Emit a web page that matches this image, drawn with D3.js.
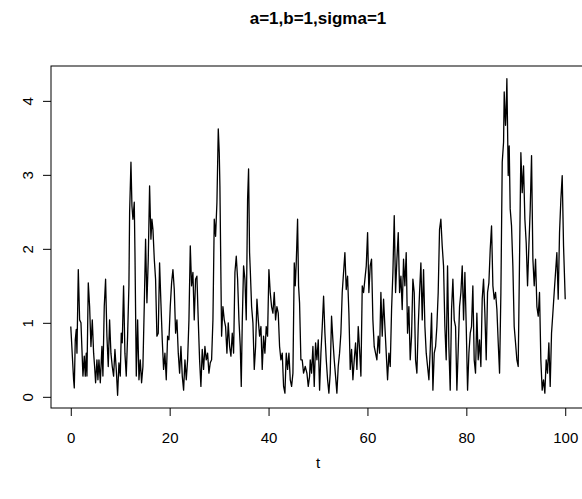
<!DOCTYPE html>
<html>
<head>
<meta charset="utf-8">
<script src="https://cdn.jsdelivr.net/npm/d3@7/dist/d3.min.js"></script>
<style>
  body { margin: 0; background: #fff; }
  svg { display: block; font-family: "Liberation Sans", Arial, Helvetica, sans-serif; }
</style>
</head>
<body>
<div id="chart"></div>
<script>
// Title and axis labels
const title = "a=1,b=1,sigma=1";
const xLabel = "t";
const xTicks = [0, 20, 40, 60, 80, 100];
const yTicks = [0, 1, 2, 3, 4];

const times = [
  0, 0.57, 0.71, 0.91, 1.11, 1.25, 1.52, 1.79, 2.06, 2.26,
  2.46, 2.73, 2.93, 3.13, 3.27, 3.54, 3.81, 4.08, 4.35, 4.62,
  4.82, 5.02, 5.29, 5.49, 5.70, 5.97, 6.30, 6.50, 6.77, 7.04,
  7.31, 7.58, 7.85, 8.12, 8.39, 8.66, 8.93, 9.20, 9.47, 9.74,
  10.01, 10.21, 10.41, 10.68, 10.95, 11.22, 11.49, 11.76, 11.90, 12.17,
  12.37, 12.57, 12.84, 12.98, 13.25, 13.52, 13.79, 14.05, 14.32, 14.59,
  14.86, 15.13, 15.40, 15.67, 15.94, 16.21, 16.41, 16.62, 16.89, 17.15,
  17.42, 17.69, 17.96, 18.23, 18.50, 18.77, 19.04, 19.31, 19.58, 19.85,
  20.12, 20.39, 20.66, 20.93, 21.20, 21.47, 21.74, 22.01, 22.28, 22.55,
  22.82, 23.09, 23.36, 23.63, 23.90, 24.17, 24.43, 24.70, 24.97, 25.24,
  25.51, 25.78, 26.05, 26.32, 26.59, 26.86, 27.13, 27.40, 27.67, 27.94,
  28.21, 28.48, 28.75, 29.02, 29.29, 29.56, 29.83, 30.03, 30.16, 30.37,
  30.50, 30.77, 31.04, 31.31, 31.58, 31.85, 32.12, 32.39, 32.66, 32.93,
  33.20, 33.47, 33.74, 34.01, 34.28, 34.48, 34.68, 34.95, 35.22, 35.49,
  35.76, 35.96, 36.16, 36.30, 36.57, 36.84, 37.11, 37.38, 37.65, 37.92,
  38.19, 38.46, 38.72, 38.99, 39.26, 39.53, 39.80, 40.07, 40.34, 40.61,
  40.88, 41.15, 41.42, 41.69, 41.96, 42.23, 42.50, 42.77, 43.04, 43.31,
  43.58, 43.85, 44.12, 44.39, 44.66, 44.93, 45.20, 45.40, 45.60, 45.87,
  46.07, 46.27, 46.54, 46.81, 47.08, 47.42, 47.76, 48.03, 48.30,
  48.43, 48.70, 48.97, 49.24, 49.51, 49.78, 50.05, 50.32, 50.59, 50.86,
  51.13, 51.40, 51.67, 51.94, 52.20, 52.47, 52.74, 53.01, 53.28, 53.55,
  53.82, 54.09, 54.36, 54.63, 54.90, 55.17, 55.44, 55.71, 55.98, 56.25,
  56.52, 56.79, 57.06, 57.33, 57.60, 57.87, 58.14, 58.41, 58.68, 58.95,
  59.22, 59.49, 59.76, 60.03, 60.29, 60.56, 60.83, 61.10, 61.37, 61.64,
  61.91, 62.18, 62.45, 62.72, 62.99, 63.26, 63.53, 63.80, 64.07, 64.34,
  64.61, 64.88, 65.15, 65.42, 65.69, 65.96, 66.23, 66.50, 66.77, 67.03,
  67.30, 67.57, 67.84, 68.11, 68.38, 68.65, 68.92, 69.19, 69.46, 69.73,
  70.00, 70.27, 70.54, 70.81, 71.08, 71.35, 71.62, 71.89, 72.16, 72.43,
  72.70, 72.97, 73.24, 73.51, 73.78, 74.04, 74.31, 74.58, 74.85, 75.12,
  75.39, 75.66, 75.93, 76.20, 76.47, 76.74, 77.01, 77.28, 77.55, 77.82,
  78.09, 78.36, 78.63, 78.90, 79.17, 79.44, 79.71, 79.98, 80.25, 80.52,
  80.79, 81.05, 81.32, 81.59, 81.86, 82.13, 82.40, 82.67, 82.94, 83.21,
  83.48, 83.75, 84.02, 84.29, 84.56, 84.83, 85.10, 85.37, 85.64, 85.91,
  86.18, 86.45, 86.72, 86.99, 87.26, 87.53, 87.66, 87.93, 88.07, 88.20,
  88.47, 88.67, 88.87, 89.14, 89.41, 89.68, 89.95, 90.22, 90.49, 90.76,
  91.03, 91.30, 91.57, 91.84, 92.11, 92.38, 92.65, 92.92, 93.19, 93.46,
  93.73, 94.00, 94.27, 94.54, 94.80, 95.07, 95.34, 95.61, 95.88, 96.15,
  96.42, 96.69, 96.96, 97.23, 97.50, 97.77, 98.04, 98.31, 98.58, 98.85,
  99.12, 99.39, 99.66, 100
];

const values = [
  0.95, 0.23, 0.12, 0.77, 0.91, 0.59, 1.72, 1.04, 1.00, 0.64,
  0.28, 0.55, 0.28, 0.59, 0.28, 1.54, 1.22, 0.68, 1.04, 0.59,
  0.41, 0.19, 0.50, 0.23, 0.50, 0.19, 0.68, 0.28, 1.22, 1.59,
  0.82, 0.41, 1.04, 0.59, 0.41, 0.28, 0.64, 0.37, 0.02, 0.46,
  0.28, 0.86, 0.73, 1.50, 0.59, 0.28, 0.82, 1.50, 2.49, 3.17,
  2.58, 2.40, 2.63, 1.95, 0.28, 1.04, 0.23, 0.50, 0.19, 0.41,
  1.22, 2.13, 1.27, 1.86, 2.85, 2.13, 2.40, 2.26, 1.86, 1.59,
  0.82, 0.86, 1.81, 1.27, 0.77, 0.37, 0.59, 0.23, 0.82, 0.77,
  1.22, 1.54, 1.72, 1.45, 0.86, 1.04, 0.59, 0.32, 0.68, 0.28,
  0.09, 0.50, 0.23, 0.50, 1.04, 2.04, 1.50, 1.68, 1.04, 1.59,
  1.63, 1.04, 0.50, 0.14, 0.64, 0.37, 0.68, 0.50, 0.59, 0.32,
  0.46, 0.50, 1.04, 2.40, 2.17, 2.63, 3.62, 3.30, 2.85, 1.59,
  0.82, 1.22, 1.04, 0.95, 0.59, 1.00, 0.68, 0.55, 0.86, 0.59,
  1.68, 1.90, 1.59, 1.04, 0.68, 0.14, 1.00, 1.77, 1.59, 1.04,
  2.67, 3.08, 1.95, 1.72, 1.22, 1.00, 0.37, 0.68, 1.32, 1.04,
  0.82, 0.95, 0.37, 0.82, 0.59, 0.95, 0.82, 1.72, 1.41, 1.22,
  1.13, 1.41, 1.04, 1.22, 1.13, 0.68, 0.50, 0.59, 0.14, 0.05,
  0.59, 0.37, 0.59, 0.23, 0.14, 0.32, 1.81, 1.50, 1.81, 2.40,
  1.50, 1.27, 0.50, 0.50, 0.32, 0.41, 0.32, 0.14, 0.28,
  0.50, 0.32, 0.68, 0.14, 0.73, 0.50, 0.77, 0.09, 0.59, 0.95,
  1.36, 0.86, 0.50, 0.23, 0.05, 0.32, 1.09, 0.77, 0.50, 0.28,
  0.05, 0.41, 0.59, 0.86, 1.41, 1.68, 1.95, 1.45, 1.63, 1.13,
  0.37, 0.64, 0.23, 0.50, 0.73, 0.37, 0.95, 0.64, 0.28, 1.50,
  1.41, 1.59, 1.77, 2.22, 1.41, 1.77, 1.86, 1.04, 0.68, 0.59,
  0.50, 0.82, 0.59, 1.41, 0.82, 1.32, 0.95, 0.59, 0.23, 0.59,
  0.41, 1.18, 1.68, 2.45, 1.41, 1.86, 2.22, 1.41, 1.63, 1.18,
  1.86, 1.50, 1.95, 0.86, 1.22, 0.50, 0.82, 1.59, 1.41, 0.50,
  0.32, 0.95, 1.41, 1.81, 1.04, 1.72, 0.95, 0.59, 0.41, 0.23,
  0.64, 1.13, 0.09, 0.59, 0.68, 0.95, 1.41, 2.26, 2.40, 2.04,
  1.77, 0.95, 0.50, 1.77, 0.68, 0.09, 1.18, 1.59, 1.04, 0.95,
  0.09, 0.64, 1.22, 1.41, 1.77, 1.04, 1.68, 0.95, 0.09, 0.59,
  0.86, 0.95, 1.50, 0.50, 0.32, 1.13, 0.50, 0.77, 0.41, 1.32,
  1.59, 1.13, 0.50, 1.41, 1.54, 1.99, 2.31, 1.50, 1.32, 1.41,
  1.18, 0.73, 0.32, 1.41, 3.17, 3.44, 4.12, 3.67, 3.89, 4.30,
  2.99, 3.39, 2.54, 2.31, 1.77, 0.95, 0.73, 0.50, 0.41, 1.86,
  3.30, 2.76, 3.12, 2.40, 2.08, 1.50, 2.04, 2.54, 3.26, 1.86,
  1.50, 1.86, 1.22, 1.09, 1.41, 0.50, 0.09, 0.23, 0.05, 0.50,
  0.32, 0.73, 0.14, 0.86, 1.13, 1.41, 1.68, 1.95, 1.32, 2.22,
  2.67, 2.99, 2.04, 1.32
];

const w = 582, h = 499;
const box = { left: 51, right: 585, top: 66, bottom: 408 };

const data = times.map((t, i) => ({ t: t, v: values[i] }))
  .filter(d => d.v !== undefined);

// R style axes: pad the data range by 4% on each side
const tExt = d3.extent(data, d => d.t),
      vExt = d3.extent(data, d => d.v),
      tPad = (tExt[1] - tExt[0]) * 0.04,
      vPad = (vExt[1] - vExt[0]) * 0.04;

const x = d3.scaleLinear()
  .domain([tExt[0] - tPad, tExt[1] + tPad])
  .range([box.left, box.right]);

const y = d3.scaleLinear()
  .domain([vExt[0] - vPad, vExt[1] + vPad])
  .range([box.bottom, box.top]);

const svg = d3.select("#chart")
  .append("svg")
  .attr("width", w)
  .attr("height", h);

// Line
const line = d3.line()
  .x(d => x(d.t))
  .y(d => y(d.v));

svg.append("path")
  .datum(data)
  .attr("d", line)
  .attr("fill", "none")
  .attr("stroke", "#000")
  .attr("stroke-width", 1.3)
  .attr("stroke-linejoin", "round");

// Plot frame
svg.append("rect")
  .attr("x", box.left)
  .attr("y", box.top)
  .attr("width", box.right - box.left)
  .attr("height", box.bottom - box.top)
  .attr("fill", "none")
  .attr("stroke", "#000")
  .attr("stroke-width", 1);

// X axis
const xAxis = svg.append("g")
  .attr("transform", `translate(0,${box.bottom})`)
  .call(d3.axisBottom(x).tickValues(xTicks).tickSize(8).tickPadding(16).tickFormat(d3.format("d")));

xAxis.select(".domain").remove();
xAxis.selectAll("text").attr("font-size", 15).attr("fill", "#000");
xAxis.selectAll("line").attr("stroke", "#000");

// Y axis, labels parallel to the axis
const yAxis = svg.append("g")
  .attr("transform", `translate(${box.left},0)`)
  .call(d3.axisLeft(y).tickValues(yTicks).tickSize(8).tickFormat(d3.format("d")));

yAxis.select(".domain").remove();
yAxis.selectAll("line").attr("stroke", "#000");
yAxis.selectAll("text")
  .attr("font-size", 15)
  .attr("fill", "#000")
  .attr("x", null)
  .attr("dy", null)
  .attr("text-anchor", "middle")
  .attr("transform", "translate(-18,0) rotate(-90)");

// Title and x label
svg.append("text")
  .attr("x", (box.left + box.right) / 2)
  .attr("y", 24)
  .attr("text-anchor", "middle")
  .attr("font-size", 17)
  .attr("font-weight", "bold")
  .text(title);

svg.append("text")
  .attr("x", (box.left + box.right) / 2)
  .attr("y", 468)
  .attr("text-anchor", "middle")
  .attr("font-size", 15)
  .text(xLabel);
</script>
</body>
</html>
